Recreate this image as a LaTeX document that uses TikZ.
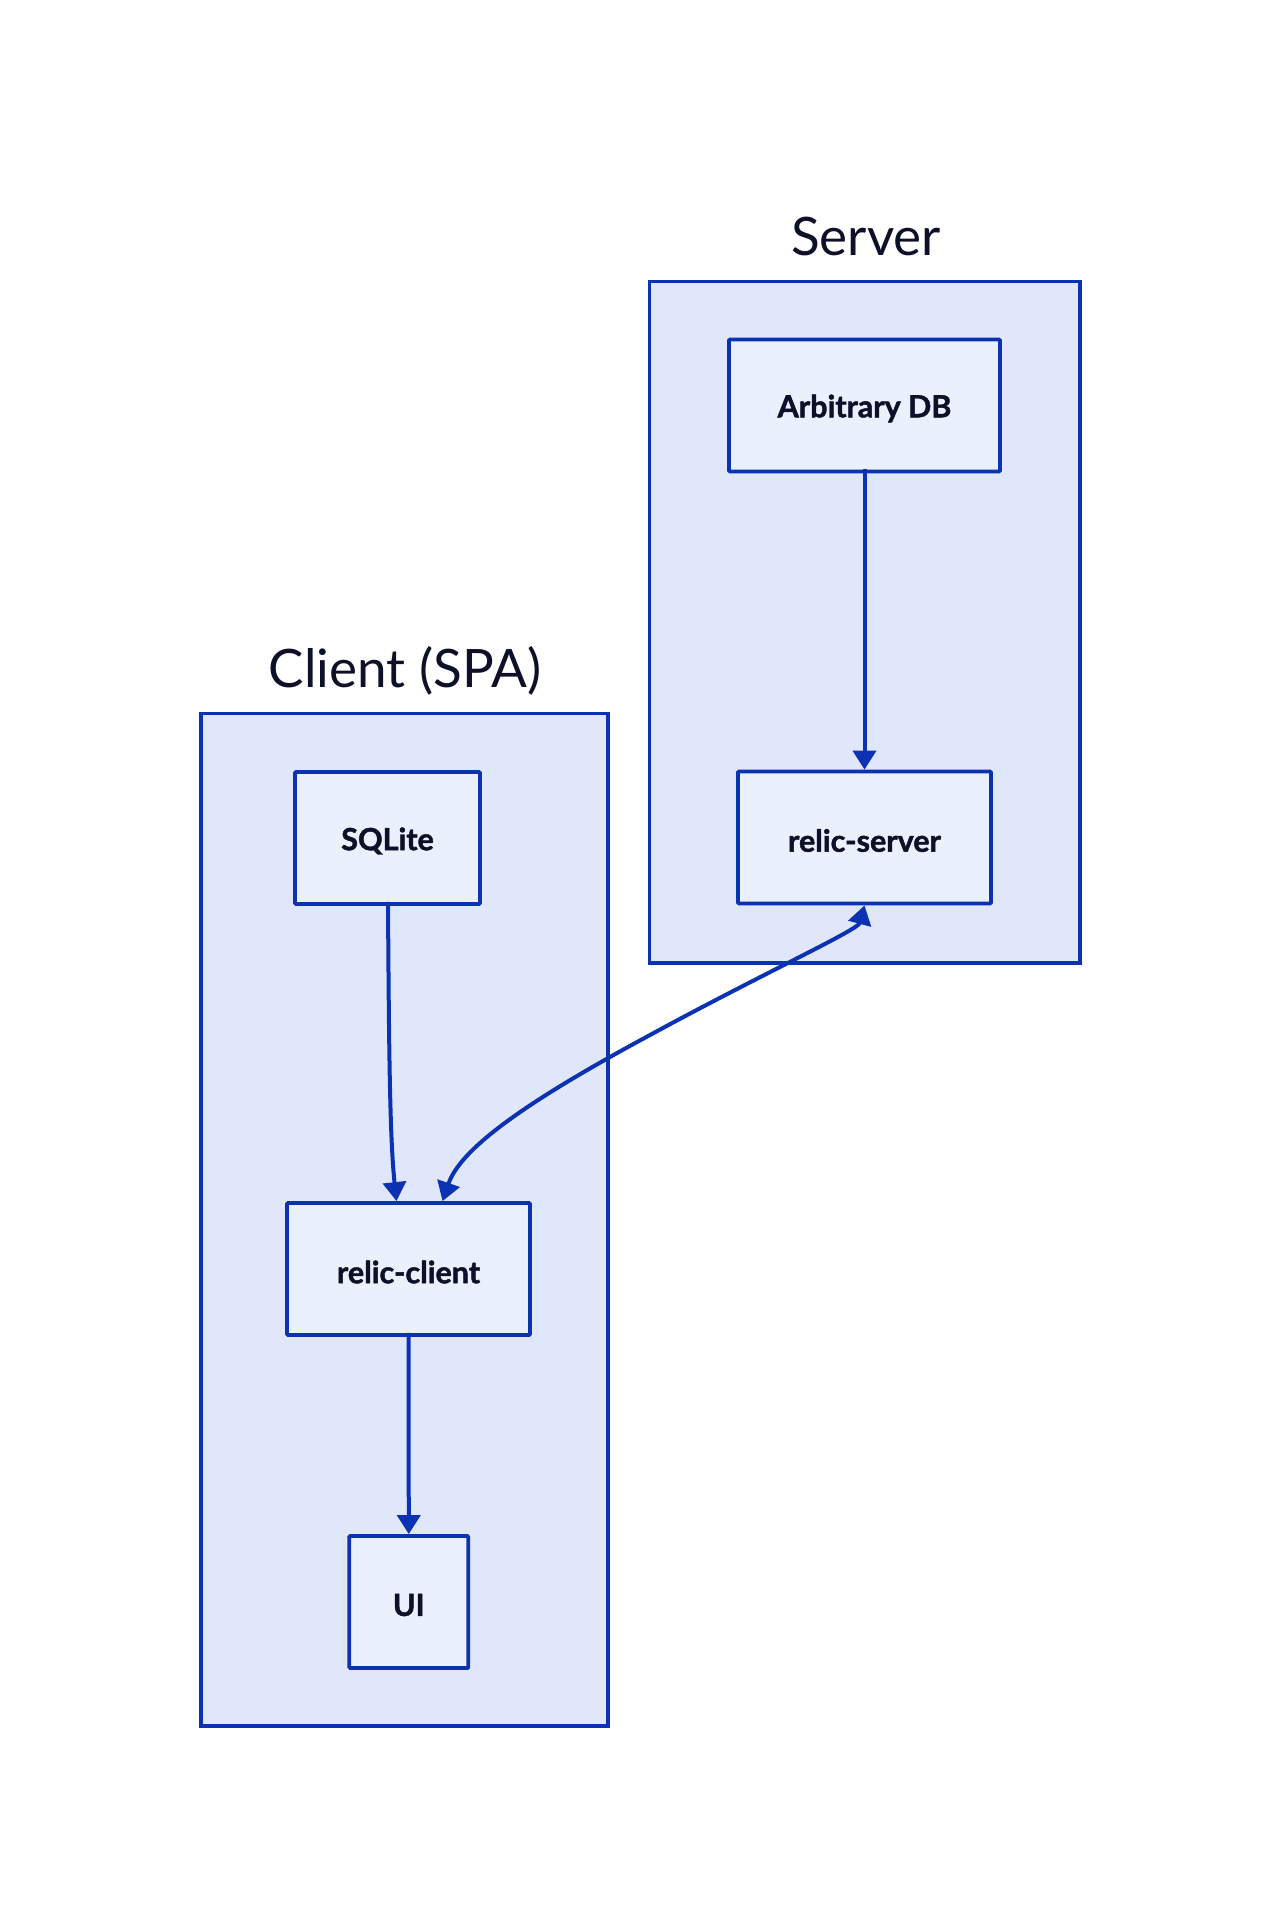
\documentclass[tikz,border=0pt]{standalone}
\usepackage{fontspec}
\setmainfont{Lato}
\newfontfamily\lblfont{Lato}[FakeBold=1.5]
\usetikzlibrary{arrows.meta}
\definecolor{edge}{RGB}{12,50,180}
\definecolor{clfill}{RGB}{225,231,250}
\definecolor{ndfill}{RGB}{235,240,253}
\definecolor{txt}{RGB}{13,16,40}
\tikzset{
  cluster/.style={draw=edge,fill=clfill,line width=3.8pt},
  box/.style={draw=edge,fill=ndfill,line width=3.8pt,rounded corners=1pt},
  lbl/.style={text=txt,font=\lblfont\fontsize{30.5}{36}\selectfont\bfseries,yshift=-3pt},
  ttl/.style={text=txt,font=\fontsize{53}{60}\selectfont,anchor=base},
  conn/.style={draw=edge,line width=4pt,-{Triangle[length=19pt,width=23pt]}},
}
\begin{document}
\begin{tikzpicture}[x=1pt,y=-1pt]
\useasboundingbox[fill=white] (0,0) rectangle (1282,1930);
% clusters
\draw[cluster] (649.5,281.5) rectangle (1080,963);
\node[ttl] (tserver) at (866,255) {Server};
\draw[cluster] (201,713.5) rectangle (608,1726);
\node[ttl] (tclient) at (405,687) {Client (SPA)};
% nodes
\node[box,minimum width=271pt,minimum height=132pt] (db) at (864.5,405.5) {};
\node[lbl] at (db) {Arbitrary DB};
\node[box,minimum width=253pt,minimum height=132pt] (rs) at (864.5,837.5) {};
\node[lbl] at (rs) {relic-server};
\node[box,minimum width=185pt,minimum height=132pt] (sq) at (387.5,838) {};
\node[lbl] at (sq) {SQLite};
\node[box,minimum width=243pt,minimum height=132pt] (rc) at (408.5,1269) {};
\node[lbl] at (rc) {relic-client};
\node[box,minimum width=119pt,minimum height=132pt] (ui) at (408.8,1602) {};
\node[lbl] at (ui) {UI};
% connectors
\draw[conn] ([yshift=4pt]db.south) -- (rs.north);
\draw[conn] ([xshift=0.5pt,yshift=4pt]sq.south) .. controls (389,1060) and (390,1140) .. ([xshift=-12pt]rc.north);
\draw[conn] ([yshift=4pt]rc.south) -- (ui.north);
\draw[conn,{Triangle[length=19pt,width=23pt]}-{Triangle[length=19pt,width=23pt]}] (rs.south) .. controls (858,930) and (760,975) .. (650,1035) .. controls (520,1105) and (460,1150) .. ([xshift=34pt]rc.north);
\end{tikzpicture}
\end{document}
